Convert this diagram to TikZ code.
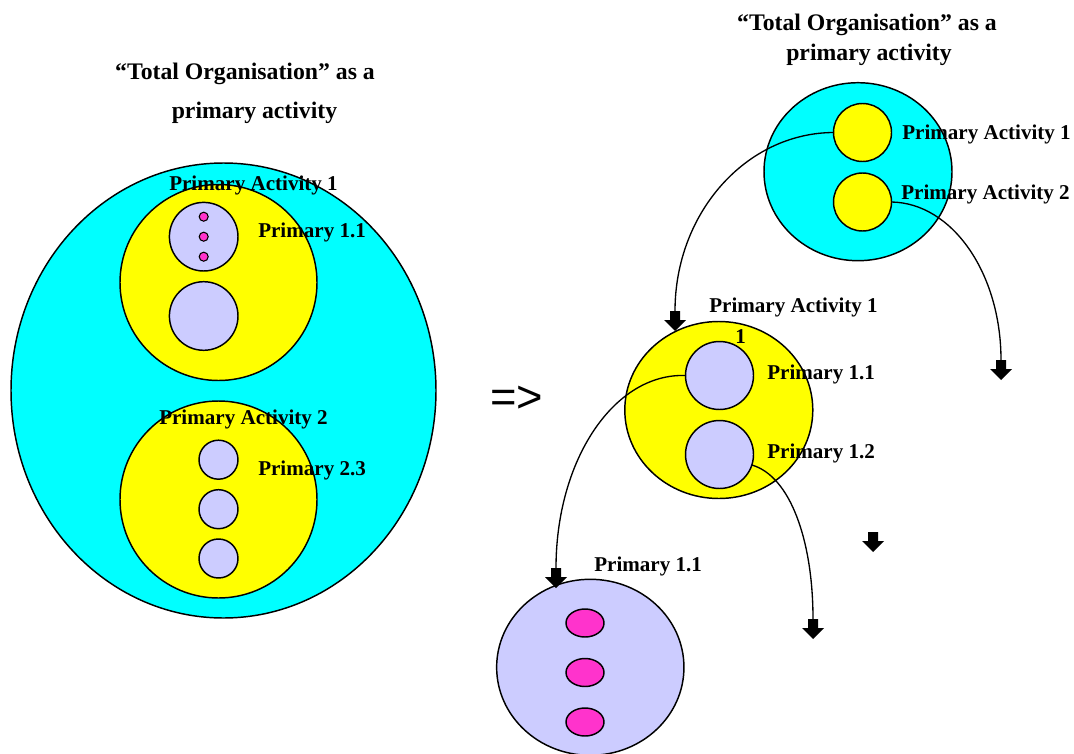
\documentclass[tikz,border=0pt]{standalone}
\usepackage{fontspec}
\setmainfont{Liberation Serif}
\newfontfamily\arrowfont{Liberation Sans}
\usetikzlibrary{shapes.geometric}
\definecolor{cyanc}{HTML}{00FFFF}
\definecolor{yellowc}{HTML}{FFFF00}
\definecolor{lavc}{HTML}{CCCCFF}
\definecolor{magc}{HTML}{FF33CC}
\newcommand\lblfont{\bfseries\fontsize{15.8}{18}\selectfont}
\newcommand\ttlfont{\bfseries\fontsize{17.8}{20}\selectfont}
\begin{document}
\begin{tikzpicture}[x=0.75pt,y=-0.75pt,
  base/.style={ellipse, draw=black, line width=1.1pt, inner sep=0pt, outer sep=0pt},
  sz/.style 2 args={minimum width=#1*0.75pt, minimum height=#2*0.75pt},
  cyanshape/.style={base, fill=cyanc},
  yellowshape/.style={base, fill=yellowc},
  lavshape/.style={base, fill=lavc},
  magshape/.style={base, fill=magc},
  lbl/.style={font=\lblfont, inner sep=0pt, anchor=west},
  ttl/.style={font=\ttlfont, inner sep=0pt},
  conn/.style={draw=black, line width=1pt},
  blockarrow/.pic={\fill[black] (-5,0) -- (5,0) -- (5,9) -- (11,9) -- (0,20) -- (-11,9) -- (-5,9) -- cycle;}
]
\useasboundingbox (0,0) rectangle (1074,753);

% ---------- Left diagram ----------
\node[cyanshape, sz={425}{455}] (big) at (223.5,390.5) {};
\node[yellowshape, sz={197}{196}] (ly1) at (218.5,282.5) {};
\node[yellowshape, sz={197}{197}] (ly2) at (218.5,499.5) {};
\node[lavshape, sz={68.6}{68.6}] (ll1) at (203.7,236.7) {};
\node[lavshape, sz={68.6}{68.6}] (ll2) at (203.7,316) {};
\node[magshape, sz={9}{9}, line width=0.8pt] (ld1) at (203.7,216.7) {};
\node[magshape, sz={9}{9}, line width=0.8pt] (ld2) at (203.7,236.7) {};
\node[magshape, sz={9}{9}, line width=0.8pt] (ld3) at (203.7,256.7) {};
\node[lavshape, sz={39}{39}] (ls1) at (218.5,459.7) {};
\node[lavshape, sz={39}{39}] (ls2) at (218.5,509.2) {};
\node[lavshape, sz={39}{39}] (ls3) at (218.5,558.5) {};

\node[ttl] (lt1) at (245,74) {“Total Organisation” as a};
\node[ttl] (lt2) at (254.5,113) {primary activity};
\node[lbl] (lpa1) at (169,185) {Primary Activity 1};
\node[lbl] (lp11) at (258,232) {Primary 1.1};
\node[lbl] (lpa2) at (159,419) {Primary Activity 2};
\node[lbl] (lp23) at (258,470) {Primary 2.3};

% ---------- Implies ----------
\node[font=\arrowfont\fontsize{34}{40}\selectfont, inner sep=0pt] (impl) at (516.7,399) {=>};

% ---------- Right top ----------
\node[ttl] (rt1) at (867,25) {“Total Organisation” as a};
\node[ttl] (rt2) at (869,55) {primary activity};
\node[cyanshape, sz={188}{178}] (rc) at (858,171.7) {};
\node[yellowshape, sz={58}{58}] (ry1) at (862.5,132.5) {};
\node[yellowshape, sz={58}{58}] (ry2) at (862.5,202) {};
\node[lbl] (rpa1) at (902,134) {Primary Activity 1};
\node[lbl] (rpa2) at (901,194) {Primary Activity 2};

% ---------- Middle ----------
\node[yellowshape, sz={188}{177}] (my) at (718.8,410) {};
\node[lavshape, sz={68}{68}] (ml1) at (719.5,375.5) {};
\node[lavshape, sz={68}{68}] (ml2) at (719.5,454.5) {};
\node[lbl] (mpa1) at (709,307) {Primary Activity 1};
\node[lbl] (mone) at (735,337) {1};
\node[lbl] (mp11) at (767,374) {Primary 1.1};
\node[lbl] (mp12) at (767,453) {Primary 1.2};

% ---------- Bottom ----------
\node[lavshape, sz={187.3}{176}] (bl) at (590.3,667.3) {};
\node[magshape, sz={38}{28}] (be1) at (585,623) {};
\node[magshape, sz={38}{28}] (be2) at (585,672.5) {};
\node[magshape, sz={38}{28}] (be3) at (585,722) {};
\node[lbl] (bp11) at (594,566) {Primary 1.1};

% ---------- Connectors ----------
\coordinate (a1) at (675,311);
\coordinate (a2) at (1001,360);
\coordinate (a3) at (556,568);
\coordinate (a4) at (813,619);
\coordinate (a5) at (873,532);

\draw[conn] (ry1.west) .. controls (746,133) and (675,213) .. (a1);
\draw[conn] (ry2.east) .. controls (952,203) and (1001,273) .. (a2);
\draw[conn] (ml1.west) .. controls (614,373) and (556,460) .. (a3);
\draw[conn] (ml2.-18) .. controls (790,476) and (813,540) .. (a4);

\pic at (a1) {blockarrow};
\pic at (a2) {blockarrow};
\pic at (a3) {blockarrow};
\pic at (a4) {blockarrow};
\pic at (a5) {blockarrow};
\end{tikzpicture}
\end{document}
